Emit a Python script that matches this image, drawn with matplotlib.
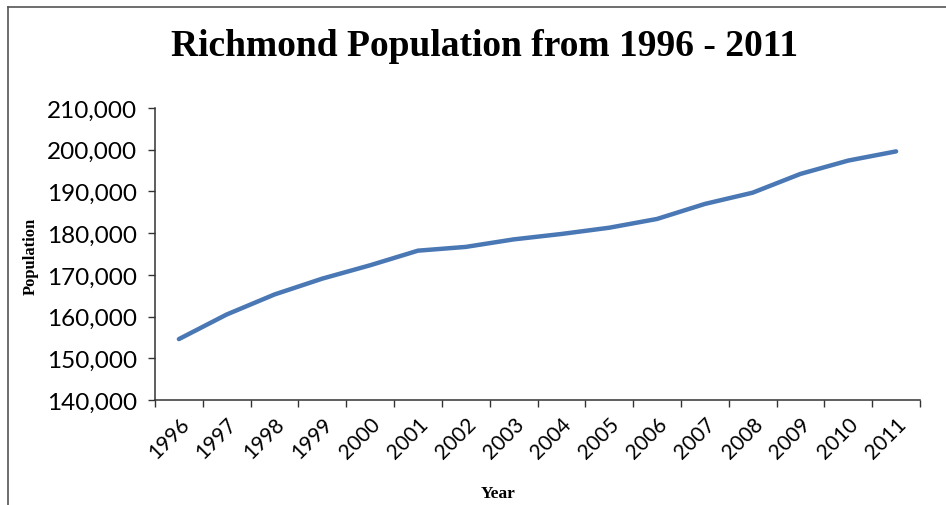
import matplotlib
matplotlib.use("Agg")
import matplotlib.pyplot as plt
from matplotlib.ticker import FuncFormatter, FixedLocator
from matplotlib.lines import Line2D

years = ["1996", "1997", "1998", "1999", "2000", "2001", "2002", "2003",
         "2004", "2005", "2006", "2007", "2008", "2009", "2010", "2011"]
population = [154600, 160500, 165300, 169100, 172300, 175800, 176700, 178500,
              179800, 181300, 183400, 187000, 189700, 194200, 197400, 199600]
y_ticks = [140000, 150000, 160000, 170000, 180000, 190000, 200000, 210000]

W, H = 946, 506
fig = plt.figure(figsize=(W / 100, H / 100), dpi=100)
fig.patch.set_facecolor("white")

# page frame around the chart
fig.add_artist(Line2D([8 / W, 8 / W], [0, 1 - 8 / H], color="#555555", lw=1.2))
fig.add_artist(Line2D([8 / W, 1], [1 - 8 / H, 1 - 8 / H], color="#555555", lw=1.2))

ax = fig.add_axes([155 / W, 1 - 401 / H, (920 - 155) / W, (401 - 109) / H])

x = list(range(len(years)))
ax.plot(x, population, color="#4a78b4", lw=3.2, solid_capstyle="round",
        solid_joinstyle="round")

ax.set_xlim(-0.5, len(years) - 0.5)
ax.set_ylim(y_ticks[0], y_ticks[-1])
ax.yaxis.set_major_locator(FixedLocator(y_ticks))
ax.yaxis.set_major_formatter(FuncFormatter(lambda v, p: f"{int(v):,}"))

# category ticks sit between the categories, labels at the centres
ax.set_xticks(x)
ax.set_xticklabels(years, rotation=45, ha="right", rotation_mode="anchor",
                   fontsize=15, family="Lato")
ax.set_xticks([i - 0.5 for i in range(len(years) + 1)], minor=True)
ax.tick_params(axis="x", which="major", length=0, pad=10)
ax.tick_params(axis="x", which="minor", length=5, width=1, color="#333333",
               direction="out")
ax.tick_params(axis="y", length=5, width=1, color="#333333", direction="out",
               labelsize=17.5, pad=8)
for lab in ax.get_yticklabels():
    lab.set_family("Lato")

for side in ("top", "right"):
    ax.spines[side].set_visible(False)
for side in ("left", "bottom"):
    ax.spines[side].set_color("#333333")
    ax.spines[side].set_linewidth(1.1)

fig.text(485 / W, 1 - 46 / H, "Richmond Population from 1996 - 2011",
         ha="center", va="center", fontsize=27, fontweight="bold",
         family="Liberation Serif")
fig.text(31 / W, 1 - 256 / H, "Population", rotation=90, ha="center",
         va="center", fontsize=12, fontweight="bold", family="Liberation Serif")
fig.text(498 / W, 1 - 494 / H, "Year", ha="center", va="center",
         fontsize=12.5, fontweight="bold", family="Liberation Serif")

fig.savefig("out.png", dpi=100, facecolor="white")
